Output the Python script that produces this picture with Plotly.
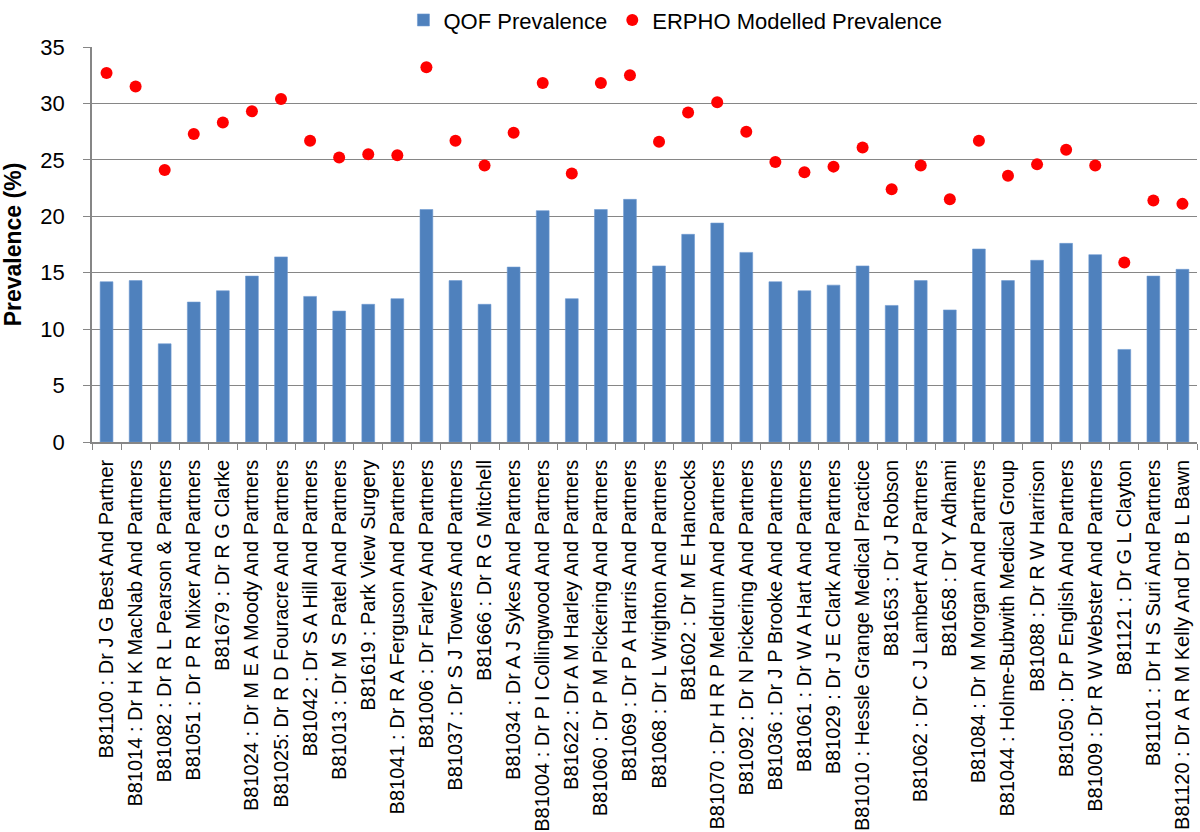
import plotly.graph_objects as go

practices = [
    "B81100 : Dr J G Best And Partner",
    "B81014 : Dr H K MacNab And Partners",
    "B81082 : Dr R L Pearson & Partners",
    "B81051 : Dr P R Mixer And Partners",
    "B81679 : Dr R G Clarke",
    "B81024 : Dr M E A Moody And Partners",
    "B81025: Dr R D Fouracre And Partners",
    "B81042 : Dr S A Hill And Partners",
    "B81013 : Dr M S Patel And Partners",
    "B81619 : Park View Surgery",
    "B81041 : Dr R A Ferguson And Partners",
    "B81006 : Dr Farley And Partners",
    "B81037 : Dr S J Towers And Partners",
    "B81666 : Dr R G Mitchell",
    "B81034 : Dr A J Sykes And Partners",
    "B81004 : Dr P I Collingwood And Partners",
    "B81622 : Dr A M Harley And Partners",
    "B81060 : Dr P M Pickering And Partners",
    "B81069 : Dr P A Harris And Partners",
    "B81068 : Dr L Wrighton And Partners",
    "B81602 : Dr M E Hancocks",
    "B81070 : Dr H R P Meldrum And Partners",
    "B81092 : Dr N Pickering And Partners",
    "B81036 : Dr J P Brooke And Partners",
    "B81061 : Dr W A Hart And Partners",
    "B81029 : Dr J E Clark And Partners",
    "B81010 : Hessle Grange Medical Practice",
    "B81653 : Dr J Robson",
    "B81062 : Dr C J Lambert And Partners",
    "B81658 : Dr Y Adhami",
    "B81084 : Dr M Morgan And Partners",
    "B81044 : Holme-Bubwith Medical Group",
    "B81088 : Dr R W Harrison",
    "B81050 : Dr P English And Partners",
    "B81009 : Dr R W Webster And Partners",
    "B81121 : Dr G L Clayton",
    "B81101 : Dr H S Suri And Partners",
    "B81120 : Dr A R M Kelly And Dr B L Bawn",
]

qof_prevalence = [
    14.2, 14.3, 8.7, 12.4, 13.4, 14.7, 16.4, 12.9, 11.6, 12.2,
    12.7, 20.6, 14.3, 12.2, 15.5, 20.5, 12.7, 20.6, 21.5, 15.6,
    18.4, 19.4, 16.8, 14.2, 13.4, 13.9, 15.6, 12.1, 14.3, 11.7,
    17.1, 14.3, 16.1, 17.6, 16.6, 8.2, 14.7, 15.3,
]

erpho_prevalence = [
    32.7, 31.5, 24.1, 27.3, 28.3, 29.3, 30.4, 26.7, 25.2, 25.5,
    25.4, 33.2, 26.7, 24.5, 27.4, 31.8, 23.8, 31.8, 32.5, 26.6,
    29.2, 30.1, 27.5, 24.8, 23.9, 24.4, 26.1, 22.4, 24.5, 21.5,
    26.7, 23.6, 24.6, 25.9, 24.5, 15.9, 21.4, 21.1,
]

y_ticks = [0, 5, 10, 15, 20, 25, 30, 35]

FONT = "Liberation Sans, Arial, sans-serif"
GRID = "#868686"

fig = go.Figure()
fig.add_trace(go.Bar(
    x=practices, y=qof_prevalence, name="QOF Prevalence",
    marker=dict(color="#4F81BD", line=dict(color="#6F9BD1", width=0.6)),
))
fig.add_trace(go.Scatter(
    x=practices, y=erpho_prevalence, name="ERPHO Modelled Prevalence",
    mode="markers", marker=dict(color="#FF0000", size=12, symbol="circle"),
))

fig.update_layout(
    width=1200, height=832,
    margin=dict(l=92, r=3, t=47, b=390, autoexpand=False),
    paper_bgcolor="white", plot_bgcolor="white",
    font=dict(family=FONT, color="black", size=20),
    bargap=0.56,
    showlegend=True,
    legend=dict(
        orientation="h", x=0.528, xanchor="center", y=1.068, yanchor="middle",
        font=dict(size=22, family=FONT), itemwidth=30,
        bgcolor="rgba(0,0,0,0)",
    ),
)

fig.update_xaxes(
    type="category", range=[-0.5, len(practices) - 0.5],
    tickangle=-90, tickson="boundaries",
    ticks="outside", ticklen=6, tickcolor=GRID, tickwidth=1,
    showline=True, linecolor=GRID, linewidth=1.5,
    showgrid=False, tickfont=dict(size=20, family=FONT),
    ticklabelstandoff=8,
)
fig.update_yaxes(
    range=[0, 35], tickvals=y_ticks,
    ticks="outside", ticklen=7, tickcolor=GRID, tickwidth=1,
    showline=True, linecolor=GRID, linewidth=1.5,
    showgrid=True, gridcolor=GRID, gridwidth=1.2,
    zeroline=False, tickfont=dict(size=22, family=FONT),
    ticklabelstandoff=14,
    title=dict(text="<b>Prevalence (%)</b>", font=dict(size=23, family=FONT), standoff=14),
)

fig.write_html("out.html")
